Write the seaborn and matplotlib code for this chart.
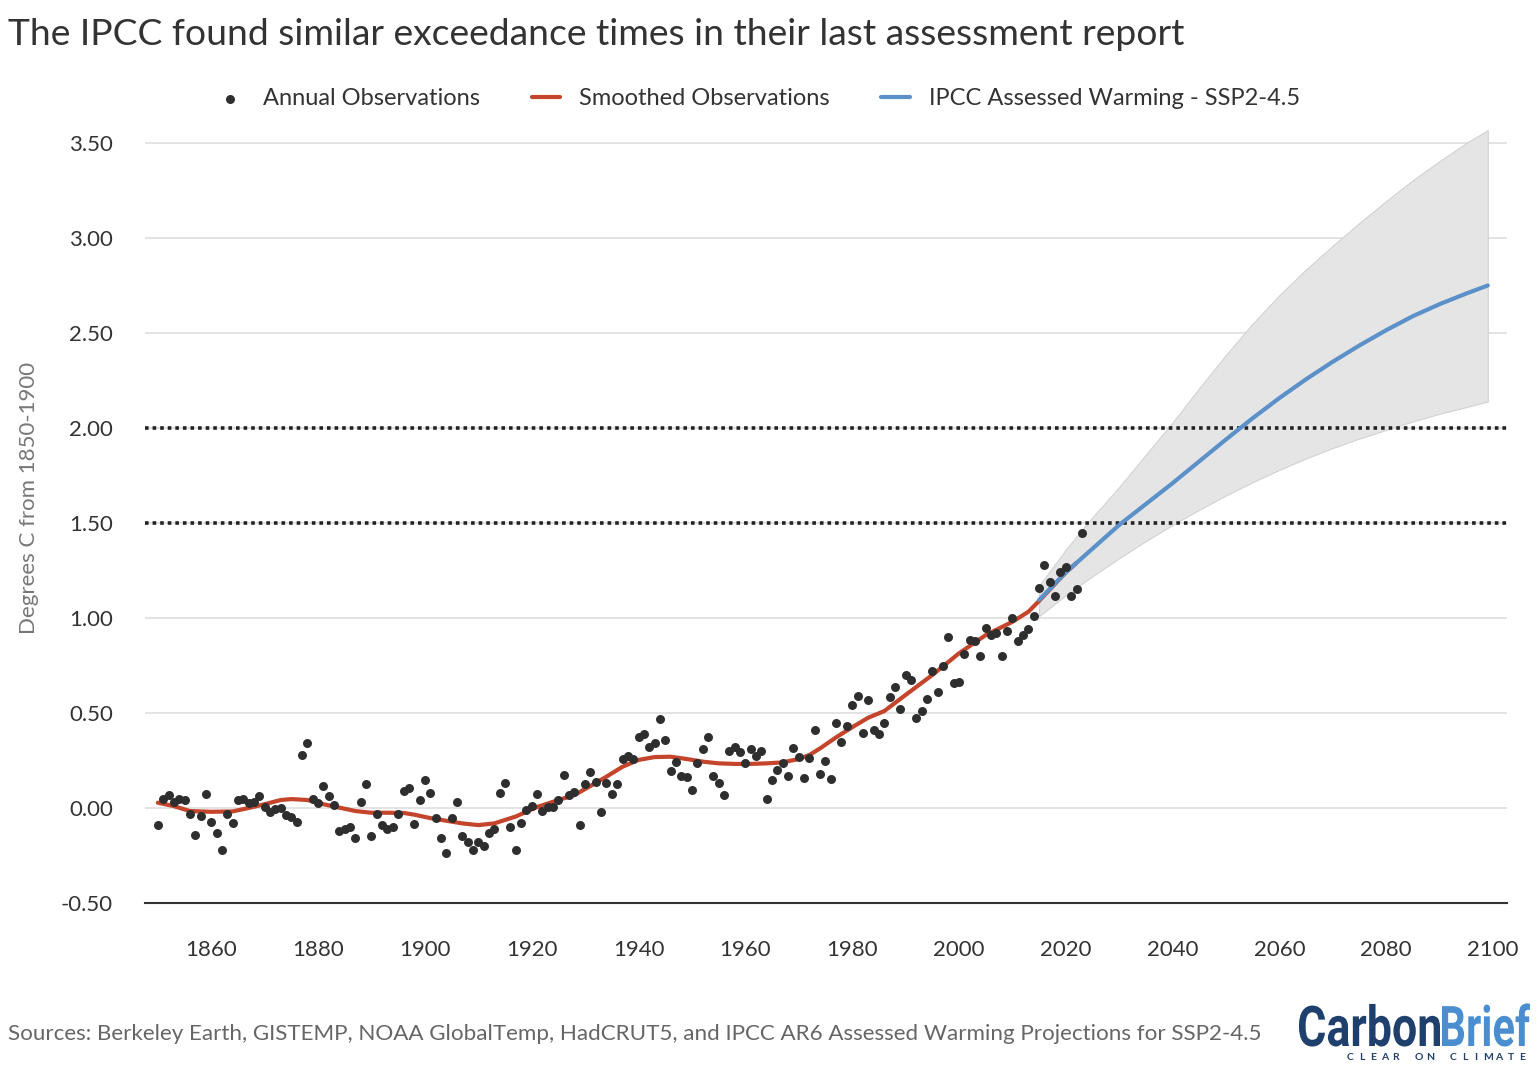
import matplotlib
matplotlib.use("Agg")
import matplotlib.pyplot as plt
import matplotlib.transforms as mtransforms
import seaborn as sns
import pandas as pd
from matplotlib.textpath import TextPath
from matplotlib.patches import PathPatch
from matplotlib.font_manager import FontProperties

# annual observations, 1850-2023 (one row per decade)
obs_years = list(range(1850, 2024))
obs_values = [
    -0.09, 0.05, 0.07, 0.03, 0.05, 0.04, -0.03, -0.14, -0.04, 0.075,
    -0.075, -0.13, -0.22, -0.03, -0.08, 0.04, 0.05, 0.025, 0.03, 0.065,
    0.005, -0.02, -0.005, 0.0, -0.035, -0.045, -0.075, 0.28, 0.34, 0.045,
    0.025, 0.115, 0.065, 0.015, -0.12, -0.11, -0.10, -0.16, 0.03, 0.125,
    -0.145, -0.03, -0.09, -0.11, -0.10, -0.03, 0.09, 0.105, -0.085, 0.04,
    0.145, 0.08, -0.055, -0.16, -0.235, -0.05, 0.03, -0.145, -0.18, -0.22,
    -0.18, -0.20, -0.13, -0.11, 0.08, 0.13, -0.10, -0.22, -0.08, -0.01,
    0.01, 0.075, -0.015, 0.005, 0.005, 0.04, 0.175, 0.07, 0.085, -0.09,
    0.125, 0.19, 0.135, -0.02, 0.13, 0.075, 0.125, 0.26, 0.275, 0.26,
    0.375, 0.39, 0.32, 0.34, 0.47, 0.36, 0.195, 0.24, 0.17, 0.165,
    0.095, 0.235, 0.31, 0.375, 0.17, 0.13, 0.07, 0.30, 0.32, 0.295,
    0.235, 0.31, 0.275, 0.30, 0.05, 0.145, 0.20, 0.235, 0.17, 0.315,
    0.27, 0.16, 0.265, 0.41, 0.18, 0.245, 0.155, 0.45, 0.345, 0.43,
    0.54, 0.59, 0.395, 0.57, 0.41, 0.39, 0.45, 0.585, 0.635, 0.52,
    0.70, 0.675, 0.475, 0.51, 0.575, 0.72, 0.61, 0.75, 0.90, 0.66,
    0.665, 0.81, 0.885, 0.88, 0.80, 0.95, 0.91, 0.92, 0.80, 0.93,
    1.00, 0.88, 0.91, 0.94, 1.01, 1.16, 1.28, 1.19, 1.115, 1.24,
    1.27, 1.115, 1.155, 1.445,
]

# smoothed observations
smooth_years = [1850, 1853, 1856, 1860, 1864, 1867, 1870, 1873, 1875, 1878,
                1881, 1884, 1887, 1890, 1893, 1896, 1898, 1901, 1904, 1907,
                1910, 1913, 1915, 1917, 1919, 1921, 1925, 1928, 1931, 1934,
                1937, 1940, 1943, 1946, 1949, 1952, 1955, 1958, 1961, 1964,
                1967, 1970, 1972, 1974, 1977, 1980, 1983, 1986, 1990, 1995,
                2000, 2005, 2010, 2013, 2015, 2018, 2020, 2022]
smooth_values = [0.028, 0.01, -0.016, -0.02, -0.018, 0.0, 0.02, 0.042, 0.047, 0.042,
                 0.02, 0.002, -0.016, -0.025, -0.025, -0.026, -0.035, -0.053, -0.067, -0.081,
                 -0.09, -0.081, -0.063, -0.045, -0.02, 0.005, 0.042, 0.068, 0.116, 0.165,
                 0.217, 0.253, 0.268, 0.27, 0.258, 0.244, 0.235, 0.232, 0.232, 0.235,
                 0.24, 0.258, 0.279, 0.314, 0.372, 0.425, 0.475, 0.51, 0.595, 0.70,
                 0.814, 0.91, 0.98, 1.033, 1.09, 1.18, 1.24, 1.29]

# IPCC AR6 assessed warming, SSP2-4.5 (central and range)
ipcc_years = [2015, 2020, 2025, 2030, 2035, 2040, 2045, 2050, 2055, 2060,
              2065, 2070, 2075, 2080, 2085, 2090, 2095, 2099]
ipcc_central = [1.095, 1.24, 1.365, 1.49, 1.60, 1.71, 1.825, 1.94, 2.052, 2.158,
                2.257, 2.349, 2.435, 2.515, 2.589, 2.652, 2.708, 2.75]
ipcc_upper = [1.17, 1.36, 1.53, 1.69, 1.86, 2.03, 2.21, 2.385, 2.55, 2.70,
              2.835, 2.96, 3.08, 3.195, 3.305, 3.405, 3.50, 3.568]
ipcc_lower = [1.01, 1.12, 1.22, 1.315, 1.405, 1.49, 1.57, 1.645, 1.715, 1.78,
              1.84, 1.895, 1.945, 1.99, 2.035, 2.075, 2.11, 2.14]

thresholds = [1.5, 2.0]
y_ticks = [-0.5, 0.0, 0.5, 1.0, 1.5, 2.0, 2.5, 3.0, 3.5]
x_ticks = [1860, 1880, 1900, 1920, 1940, 1960, 1980, 2000, 2020, 2040, 2060, 2080, 2100]

RED = "#c4442c"
BLUE = "#5b91c8"
DOT = "#2e2e2e"
TEXT = "#333333"

sns.set_theme(style="white")
plt.rcParams["font.family"] = ["Lato", "DejaVu Sans"]
plt.rcParams["axes.unicode_minus"] = False

fig = plt.figure(figsize=(15.4, 10.76), dpi=100)
ax = fig.add_axes([145 / 1540, 173 / 1076, 1362 / 1540, 779 / 1076])

obs = pd.DataFrame({"year": obs_years, "value": obs_values})
smooth = pd.DataFrame({"year": smooth_years, "value": smooth_values})
ipcc = pd.DataFrame({"year": ipcc_years, "central": ipcc_central,
                     "lower": ipcc_lower, "upper": ipcc_upper})

# gridlines
for y in y_ticks:
    ax.axhline(y, color="#e3e3e3", lw=1.4, zorder=0)

ax.fill_between(ipcc["year"], ipcc["lower"], ipcc["upper"],
                facecolor="#e5e5e5", edgecolor="#d2d2d2", lw=0.8, zorder=1)

for t in thresholds:
    ax.axhline(t, color="#222222", lw=2.6, ls=(0, (1, 1.1)), zorder=2)

sns.scatterplot(data=obs, x="year", y="value", ax=ax, color=DOT, s=42,
                linewidth=0, zorder=4, label="Annual Observations")
sns.lineplot(data=smooth, x="year", y="value", ax=ax, color=RED, lw=3,
             zorder=3, label="Smoothed Observations")
sns.lineplot(data=ipcc, x="year", y="central", ax=ax, color=BLUE, lw=3,
             zorder=3.5, label="IPCC Assessed Warming - SSP2-4.5")

ax.set_xlim(1847.6, 2102.6)
ax.set_ylim(-0.5, 3.6)
ax.set_yticks(y_ticks)
ax.set_yticklabels([f"{v:.2f}" for v in y_ticks])
ax.set_xticks(x_ticks)
ax.set_xticklabels([str(v) for v in x_ticks])
ax.set_xlabel("")
ax.set_ylabel("Degrees C from 1850-1900", fontsize=16, color="#777777")
ax.yaxis.set_label_coords(-0.078, 0.52)

for side in ["top", "right", "left"]:
    ax.spines[side].set_visible(False)
ax.spines["bottom"].set_color(TEXT)
ax.spines["bottom"].set_linewidth(1.5)
ax.tick_params(axis="y", length=0, pad=23, labelsize=16, labelcolor=TEXT)
ax.tick_params(axis="x", length=13, width=1.2, color=TEXT, pad=14,
               labelsize=16, labelcolor=TEXT)

handles, labels = ax.get_legend_handles_labels()
ax.get_legend().remove()
fig.legend(handles, labels, loc="center", bbox_to_anchor=(0.492, 0.908),
           ncol=3, frameon=False, fontsize=17, handlelength=1.2,
           columnspacing=2.2, handletextpad=0.8, labelcolor=TEXT)

fig.text(0.005, 0.958, "The IPCC found similar exceedance times in their last assessment report",
         fontsize=26.8, color=TEXT, va="baseline", ha="left")
fig.text(0.005, 0.0335,
         "Sources: Berkeley Earth, GISTEMP, NOAA GlobalTemp, HadCRUT5, and IPCC AR6 Assessed Warming Projections for SSP2-4.5",
         fontsize=16.1, color="#666666", va="baseline", ha="left")

# Carbon Brief logo, squeezed horizontally to look condensed
fp = FontProperties(family=["Roboto", "DejaVu Sans"], weight="bold")
def logo_word(word, x0, x1, base, cap, color):
    path = TextPath((0, 0), word, size=1, prop=fp)
    ext = path.get_extents()
    sx = (x1 - x0) / ext.width
    sy = cap / TextPath((0, 0), "C", size=1, prop=fp).get_extents().height
    tr = mtransforms.Affine2D().translate(-ext.x0, 0).scale(sx, sy).translate(x0, base)
    fig.patches.append(PathPatch(tr.transform_path(path), facecolor=color,
                                 edgecolor="none", transform=None, figure=fig))

logo_word("Carbon", 1299, 1440, 1076 - 1046, 41, "#1f3f6d")
logo_word("Brief", 1442, 1530, 1076 - 1046, 41, "#4a8ed0")
tagline = "CLEAR ON CLIMATE"
for i, ch in enumerate(tagline):
    x = 1350 + i * (1522 - 1350) / (len(tagline) - 1)
    fig.text(x / 1540, (1076 - 1058) / 1076, ch, fontsize=7.5, fontweight="bold",
             color="#1f3f6d", ha="center", va="center")

fig.savefig("out.png", dpi=100)
